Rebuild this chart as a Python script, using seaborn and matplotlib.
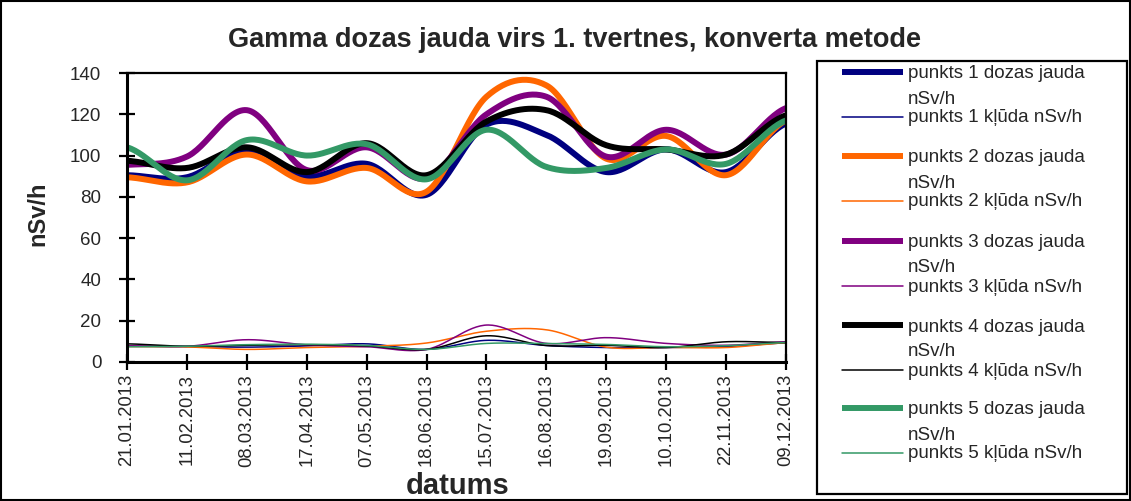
import numpy as np
import pandas as pd
import matplotlib
matplotlib.use("Agg")
import matplotlib.pyplot as plt
import seaborn as sns
from matplotlib.lines import Line2D
from matplotlib.patches import Rectangle

# -----------------------------
# Data
# -----------------------------
dates = ["21.01.2013", "11.02.2013", "08.03.2013", "17.04.2013", "07.05.2013", "18.06.2013",
         "15.07.2013", "16.08.2013", "19.09.2013", "10.10.2013", "22.11.2013", "09.12.2013"]

dose_p1 = [90.5, 89.5, 103, 90, 96, 81, 115, 110, 92, 103, 92, 115.5]
dose_p2 = [89.5, 87, 100.5, 87.5, 94, 82.5, 128.5, 134, 98.5, 109.5, 90.5, 117]
dose_p3 = [95.5, 99.5, 122, 93, 104, 89, 120, 128.5, 99.5, 112.5, 100.5, 123]
dose_p4 = [97.5, 94, 104, 92, 106, 90.5, 116.5, 122, 105, 103, 100.5, 119.5]
dose_p5 = [104, 88, 107.5, 100, 105.5, 88.5, 112.5, 94.5, 94, 103, 96, 117]

err_p1 = [7.6, 7.5, 7.2, 7.8, 8.8, 6.1, 10.5, 8.0, 7.0, 7.0, 7.5, 9.3]
err_p2 = [7.5, 7.3, 6.1, 7.0, 7.6, 9.2, 14.9, 15.6, 7.2, 7.1, 7.0, 9.3]
err_p3 = [7.9, 7.6, 10.8, 8.3, 7.4, 6.1, 17.9, 9.0, 11.8, 9.0, 8.1, 9.8]
err_p4 = [8.8, 7.6, 8.1, 8.4, 7.8, 6.1, 12.7, 8.0, 8.1, 7.0, 9.8, 9.4]
err_p5 = [7.4, 7.6, 8.4, 8.6, 8.0, 6.1, 9.0, 8.9, 8.5, 7.4, 7.9, 9.4]

labels = ["punkts 1", "punkts 2", "punkts 3", "punkts 4", "punkts 5"]
colors = ["#000080", "#FF6600", "#800080", "#000000", "#339966"]
doses = [dose_p1, dose_p2, dose_p3, dose_p4, dose_p5]
errors = [err_p1, err_p2, err_p3, err_p4, err_p5]


# -----------------------------
# Excel-like smoothed line (Catmull-Rom)
# -----------------------------
def smooth(values, n=30):
    p = np.asarray(values, dtype=float)
    p = np.concatenate([[p[0]], p, [p[-1]]])
    xs, ys = [], []
    t = np.linspace(0, 1, n, endpoint=False)
    for i in range(1, len(p) - 2):
        p0, p1, p2, p3 = p[i - 1], p[i], p[i + 1], p[i + 2]
        y = 0.5 * ((2 * p1) + (-p0 + p2) * t + (2 * p0 - 5 * p1 + 4 * p2 - p3) * t ** 2
                   + (-p0 + 3 * p1 - 3 * p2 + p3) * t ** 3)
        xs.extend(i - 1 + t)
        ys.extend(y)
    xs.append(len(values) - 1)
    ys.append(values[-1])
    return np.array(xs), np.array(ys)


# -----------------------------
# Figure
# -----------------------------
sns.set_style("white")
plt.rcParams["font.family"] = ["Liberation Sans", "DejaVu Sans"]

W, H = 1131, 501
fig = plt.figure(figsize=(W / 100, H / 100), dpi=100)
ax = fig.add_axes([127 / W, 1 - 362 / H, (786 - 127) / W, (362 - 73) / H])

for lab, col, d, e in zip(labels, colors, doses, errors):
    xs, ys = smooth(d)
    sns.lineplot(x=xs, y=ys, color=col, lw=4.3, sort=False, estimator=None, ax=ax)
    xs, ys = smooth(e)
    sns.lineplot(x=xs, y=ys, color=col, lw=1.1, sort=False, estimator=None, ax=ax)

ax.set_xlim(0, len(dates) - 1)
ax.set_ylim(0, 140)
ax.set_yticks(range(0, 141, 20))
ax.set_xticks(range(len(dates)))
ax.set_xticklabels(dates, rotation=90, fontsize=13.3)
ax.tick_params(left=True, bottom=True, direction="inout", length=11, width=1.6, color="black")
ax.tick_params(axis="y", labelsize=13.5, pad=13)
ax.tick_params(axis="x", pad=3)
for s in ax.spines.values():
    s.set_visible(True)
    s.set_color("black")
    s.set_linewidth(1.6)
ax.spines["left"].set_linewidth(2.2)
ax.spines["bottom"].set_linewidth(2.2)
ax.grid(False)
ax.set_xlabel("")
ax.set_ylabel("")

fig.text(575 / W, 1 - 40 / H, "Gamma dozas jauda virs 1. tvertnes, konverta metode",
         ha="center", va="center", fontsize=19.5, fontweight="bold")
fig.text(38 / W, 1 - 214 / H, "nSv/h", ha="center", va="center", rotation=90,
         fontsize=17, fontweight="bold")
fig.text(458 / W, 1 - 486 / H, "datums", ha="center", va="center",
         fontsize=21, fontweight="bold")

# -----------------------------
# Legend box
# -----------------------------
fig.add_artist(Rectangle((817 / W, 1 - 494 / H), (1127 - 817) / W, (494 - 61) / H,
                         transform=fig.transFigure, fill=False, ec="black", lw=1.6))
thick_y = [72, 156, 241, 325, 408]
for lab, col, ty in zip(labels, colors, thick_y):
    fig.add_artist(Line2D([842 / W, 903 / W], [1 - ty / H, 1 - ty / H], color=col, lw=4.3,
                          transform=fig.transFigure, solid_capstyle="butt"))
    fig.text(908 / W, 1 - (ty + 2) / H, lab + " dozas jauda", va="center", fontsize=13.5)
    fig.text(908 / W, 1 - (ty + 27) / H, "nSv/h", va="center", fontsize=13.5)
    tt = ty + 45
    fig.add_artist(Line2D([842 / W, 903 / W], [1 - tt / H, 1 - tt / H], color=col, lw=1.1,
                          transform=fig.transFigure))
    fig.text(908 / W, 1 - (tt + 1) / H, lab + " kļūda nSv/h", va="center", fontsize=13.5)

# outer frame
fig.add_artist(Rectangle((1 / W, 1 / H), (W - 2) / W, (H - 2) / H,
                         transform=fig.transFigure, fill=False, ec="black", lw=1.5))

fig.savefig("out.png", dpi=100, facecolor="white")
